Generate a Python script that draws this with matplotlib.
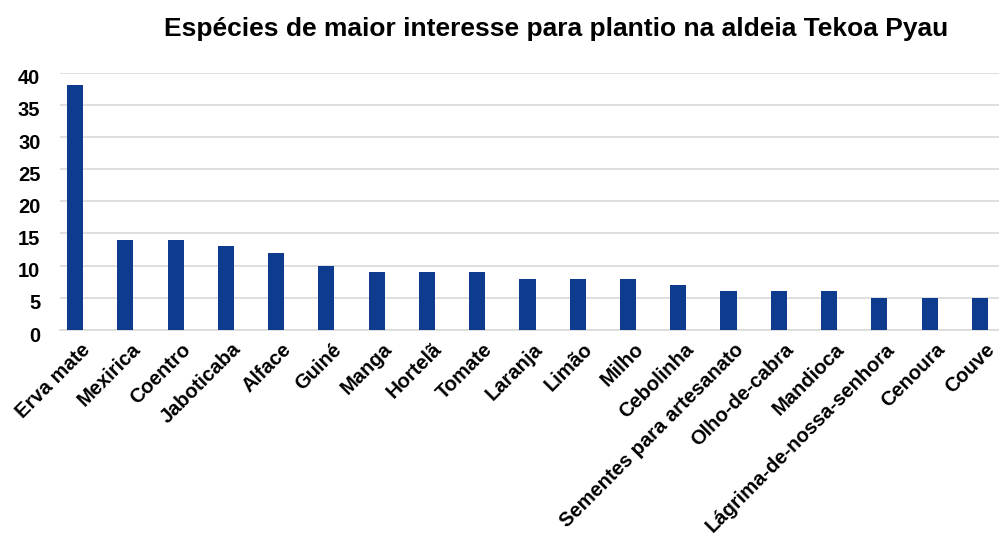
import matplotlib.pyplot as plt
import matplotlib.transforms as mtransforms
import numpy as np

plt.rcParams['font.family'] = ['Liberation Sans', 'DejaVu Sans']

especies = ['Erva mate', 'Mexirica', 'Coentro', 'Jaboticaba', 'Alface', 'Guiné',
            'Manga', 'Hortelã', 'Tomate', 'Laranja', 'Limão', 'Milho', 'Cebolinha',
            'Sementes para artesanato', 'Olho-de-cabra', 'Mandioca',
            'Lágrima-de-nossa-senhora', 'Cenoura', 'Couve']
valores = [38, 14, 14, 13, 12, 10, 9, 9, 9, 8, 8, 8, 7, 6, 6, 6, 5, 5, 5]
yticks = [0, 5, 10, 15, 20, 25, 30, 35, 40]

fig = plt.figure(figsize=(9.99, 5.39), dpi=100)
ax = fig.add_axes([0.060, 0.3878, 0.94, 0.4775])

x = np.arange(len(especies))
ax.bar(x, valores, width=0.32, color='#0e3b8e', zorder=3)

ax.set_ylim(0, 40)
ax.set_xlim(-0.3, len(especies) - 0.62)
ax.set_yticks(yticks)
ax.set_yticklabels([str(v) for v in yticks], fontsize=14.5, fontweight='bold')
ax.yaxis.grid(True, color='#d9d9d9', linewidth=1.2, zorder=0)
ax.tick_params(axis='both', length=0)
ax.tick_params(axis='y', pad=14)
# rotulos do eixo y um pouco abaixo das linhas
desloc = mtransforms.ScaledTranslation(0, -3 / 72, fig.dpi_scale_trans)
for lab in ax.get_yticklabels():
    lab.set_transform(lab.get_transform() + desloc)

ax.set_xticks(x)
ax.set_xticklabels(especies, rotation=45, ha='right', rotation_mode='anchor',
                   fontsize=14.5, fontweight='bold')
ax.tick_params(axis='x', pad=3)
# empurra os rotulos do eixo x para a direita e para baixo
desloc_x = mtransforms.ScaledTranslation(4 / 72, -4 / 72, fig.dpi_scale_trans)
for lab in ax.get_xticklabels():
    lab.set_transform(lab.get_transform() + desloc_x)

for s in ['top', 'right', 'left']:
    ax.spines[s].set_visible(False)
ax.spines['bottom'].set_color('#d9d9d9')
ax.spines['bottom'].set_linewidth(1.2)

fig.text(0.557, 0.947, 'Espécies de maior interesse para plantio na aldeia Tekoa Pyau',
         ha='center', va='center', fontsize=19, fontweight='bold')

fig.savefig('out.png', dpi=100)
